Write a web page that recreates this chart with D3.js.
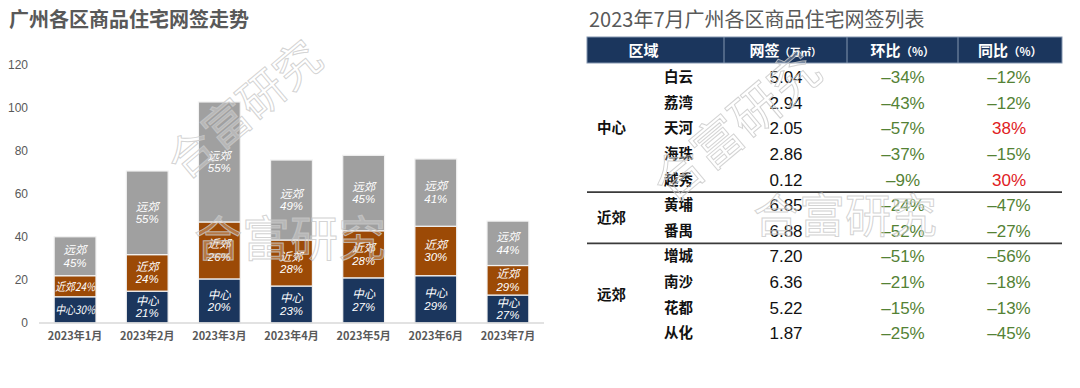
<!DOCTYPE html>
<html>
<head>
<meta charset="utf-8">
<script src="https://cdn.jsdelivr.net/npm/d3@7"></script>
<style>
  body { margin: 0; background: #fff; }
  svg { display: block; font-family: "Liberation Sans", "Noto Sans CJK SC", sans-serif; }
</style>
</head>
<body>
<script>
// left chart data (万㎡)
var months = ["2023年1月", "2023年2月", "2023年3月", "2023年4月", "2023年5月", "2023年6月", "2023年7月"];
var centerVals = [12.2, 14.8, 20.5, 17.2, 21.0, 22.0, 13.01];
var nearVals = [9.8, 17.0, 26.5, 21.4, 21.9, 23.0, 13.73];
var farVals = [18.1, 38.9, 55.8, 37.2, 35.1, 31.3, 20.65];
var centerPct = ["30%", "21%", "20%", "23%", "27%", "29%", "27%"];
var nearPct = ["24%", "24%", "26%", "28%", "28%", "30%", "29%"];
var farPct = ["45%", "55%", "55%", "49%", "45%", "41%", "44%"];
var yTicks = [0, 20, 40, 60, 80, 100, 120];

// table data
var groups = ["中心", "近郊", "远郊"];
var groupSize = [5, 2, 4];
var districts = ["白云", "荔湾", "天河", "海珠", "越秀", "黄埔", "番禺", "增城", "南沙", "花都", "从化"];
var signed = [5.04, 2.94, 2.05, 2.86, 0.12, 6.85, 6.88, 7.20, 6.36, 5.22, 1.87];
var mom = [-34, -43, -57, -37, -9, -24, -52, -51, -21, -15, -25];
var yoy = [-12, -12, 38, -15, 30, -47, -27, -56, -18, -13, -45];

var cjk = "'Noto Sans CJK SC', sans-serif";
var numFont = "'Liberation Sans', Arial, 'Noto Sans CJK SC', sans-serif";

var svg = d3.select("body").append("svg")
    .attr("width", 1080)
    .attr("height", 388);

// watermark spots
var marks = [
    { x: 255, y: 122, rot: -40, size: 46 },
    { x: 290, y: 256, rot: 0, size: 48 },
    { x: 748, y: 140, rot: -40, size: 50 },
    { x: 845, y: 232, rot: 0, size: 46 }
];

// ---------- left: stacked bars ----------
svg.append("text")
    .attr("x", 9).attr("y", 27)
    .attr("font-family", cjk)
    .attr("font-size", "20px")
    .attr("font-weight", "bold")
    .attr("fill", "#595959")
    .text("广州各区商品住宅网签走势");

var x = d3.scaleBand()
    .domain(months)
    .range([39, 544])
    .paddingInner(0.42)
    .paddingOuter(0.21);

var y = d3.scaleLinear()
    .domain([0, 120])
    .range([323, 65]);

var yAxis = svg.append("g")
    .attr("transform", "translate(30,0)")
    .call(d3.axisLeft(y).tickValues(yTicks).tickSize(0).tickPadding(2));
yAxis.select(".domain").remove();
yAxis.selectAll("text")
    .attr("font-family", numFont)
    .attr("font-size", "12px")
    .attr("fill", "#595959");

var series = [
    { vals: centerVals, pct: centerPct, name: "中心", color: "#1b365d" },
    { vals: nearVals, pct: nearPct, name: "近郊", color: "#9c4a06" },
    { vals: farVals, pct: farPct, name: "远郊", color: "#a0a0a0" }
];

var stacked = months.map(function (m, i) {
    var base = 0;
    return series.map(function (s) {
        var seg = { month: m, y0: base, y1: base + s.vals[i], color: s.color, name: s.name, pct: s.pct[i], v: s.vals[i] };
        base += s.vals[i];
        return seg;
    });
});
var segs = [].concat.apply([], stacked);

svg.selectAll("rect.seg")
    .data(segs)
    .enter()
    .append("rect")
    .attr("class", "seg")
    .attr("x", function (d) { return x(d.month); })
    .attr("width", x.bandwidth())
    .attr("y", function (d) { return y(d.y1); })
    .attr("height", function (d) { return y(d.y0) - y(d.y1); })
    .attr("fill", function (d) { return d.color; })
    .attr("stroke", "#f2f2f2")
    .attr("stroke-width", 1.2);

// segment labels
var lab = svg.selectAll("text.seglab")
    .data(segs)
    .enter()
    .append("text")
    .attr("class", "seglab")
    .attr("text-anchor", "middle")
    .attr("font-family", cjk)
    .attr("font-style", "italic")
    .attr("font-size", "11.5px")
    .attr("fill", "#fff")
    .attr("x", function (d) { return x(d.month) + x.bandwidth() / 2; })
    .attr("y", function (d) { return (y(d.y0) + y(d.y1)) / 2; });

lab.each(function (d) {
    var t = d3.select(this);
    if (d.v < 12.5) {
        t.attr("dy", "0.38em").text(d.name + d.pct).attr("textLength", x.bandwidth() - 2).attr("lengthAdjust", "spacingAndGlyphs");
    } else {
        t.append("tspan").attr("x", t.attr("x")).attr("dy", "-0.2em").text(d.name);
        t.append("tspan").attr("x", t.attr("x")).attr("dy", "1.1em").attr("font-family", numFont).text(d.pct);
    }
});

// baseline
svg.append("line")
    .attr("x1", 39).attr("x2", 544)
    .attr("y1", y(0)).attr("y2", y(0))
    .attr("stroke", "#d9d9d9").attr("stroke-width", 1.5);

var xAxis = svg.append("g")
    .attr("transform", "translate(0," + y(0) + ")")
    .call(d3.axisBottom(x).tickSize(0).tickPadding(9));
xAxis.select(".domain").remove();
xAxis.selectAll("text")
    .attr("font-family", cjk)
    .attr("font-size", "11px")
    .attr("font-weight", "bold")
    .attr("fill", "#595959");

// ---------- right: table ----------
svg.append("text")
    .attr("x", 589).attr("y", 27)
    .attr("font-family", cjk)
    .attr("font-size", "20px")
    .attr("fill", "#595959")
    .text("2023年7月广州各区商品住宅网签列表");

var tLeft = 587, tRight = 1062;
var colEdges = [587, 724, 847, 958, 1062];

svg.append("rect")
    .attr("x", tLeft).attr("y", 37)
    .attr("width", tRight - tLeft).attr("height", 26)
    .attr("fill", "#1b365d")
    .attr("stroke", "#8496b0").attr("stroke-width", 1);

[724, 847, 958].forEach(function (cx) {
    svg.append("line")
        .attr("x1", cx).attr("x2", cx).attr("y1", 37).attr("y2", 63)
        .attr("stroke", "#8496b0").attr("stroke-width", 1);
});

var headers = [["区域", ""], ["网签", "（万㎡）"], ["环比", "（%）"], ["同比", "（%）"]];
headers.forEach(function (h, i) {
    var t = svg.append("text")
        .attr("x", (colEdges[i] + colEdges[i + 1]) / 2 - (i === 0 ? 12 : 0))
        .attr("y", 55.5)
        .attr("text-anchor", "middle")
        .attr("font-family", cjk)
        .attr("font-weight", "bold")
        .attr("fill", "#fff");
    t.append("tspan").attr("font-size", "15px").text(h[0]);
    if (h[1]) t.append("tspan").attr("font-size", i === 1 ? "10.5px" : "11.5px").text(h[1]);
});

var row = d3.scaleBand()
    .domain(districts)
    .range([64.2, 64.2 + 25.6 * districts.length]);

var rowY = function (d) { return row(d) + row.bandwidth() / 2; };

// group labels and separators
var start = 0;
groups.forEach(function (g, gi) {
    var first = districts[start], last = districts[start + groupSize[gi] - 1];
    var cy = (row(first) + row(last) + row.bandwidth()) / 2;
    svg.append("text")
        .attr("x", 597).attr("y", cy)
        .attr("dy", "0.36em")
        .attr("font-family", cjk)
        .attr("font-size", "14.5px")
        .attr("font-weight", "bold")
        .attr("fill", "#111")
        .text(g);
    if (gi < groups.length - 1) {
        var ly = row(last) + row.bandwidth();
        svg.append("line")
            .attr("x1", tLeft).attr("x2", tRight)
            .attr("y1", ly).attr("y2", ly)
            .attr("stroke", "#3a3a3a").attr("stroke-width", 1.8);
    }
    start += groupSize[gi];
});

svg.selectAll("text.dist")
    .data(districts)
    .enter()
    .append("text")
    .attr("class", "dist")
    .attr("x", 664)
    .attr("y", rowY)
    .attr("dy", "0.36em")
    .attr("font-family", cjk)
    .attr("font-size", "14.5px")
    .attr("font-weight", "bold")
    .attr("fill", "#111")
    .text(function (d) { return d; });

var fmtPct = function (v) { return (v < 0 ? "–" + Math.abs(v) : v) + "%"; };

svg.selectAll("text.val")
    .data(signed)
    .enter()
    .append("text")
    .attr("class", "val")
    .attr("x", 786)
    .attr("y", function (d, i) { return rowY(districts[i]); })
    .attr("dy", "0.36em")
    .attr("text-anchor", "middle")
    .attr("font-family", numFont)
    .attr("font-size", "17px")
    .attr("fill", "#111")
    .text(function (d) { return d.toFixed(2); });

svg.selectAll("text.mom")
    .data(mom)
    .enter()
    .append("text")
    .attr("class", "mom")
    .attr("x", 903)
    .attr("y", function (d, i) { return rowY(districts[i]); })
    .attr("dy", "0.36em")
    .attr("text-anchor", "middle")
    .attr("font-family", numFont)
    .attr("font-size", "17px")
    .attr("fill", function (d) { return d < 0 ? "#548235" : "#e0201e"; })
    .text(fmtPct);

svg.selectAll("text.yoy")
    .data(yoy)
    .enter()
    .append("text")
    .attr("class", "yoy")
    .attr("x", 1009)
    .attr("y", function (d, i) { return rowY(districts[i]); })
    .attr("dy", "0.36em")
    .attr("text-anchor", "middle")
    .attr("font-family", numFont)
    .attr("font-size", "17px")
    .attr("fill", function (d) { return d < 0 ? "#548235" : "#e0201e"; })
    .text(fmtPct);

// watermark on top, outline only
svg.selectAll("text.wm")
    .data(marks)
    .enter()
    .append("text")
    .attr("class", "wm")
    .attr("text-anchor", "middle")
    .attr("transform", function (d) { return "translate(" + d.x + "," + d.y + ") rotate(" + d.rot + ")"; })
    .attr("font-family", cjk)
    .attr("font-size", function (d) { return d.size + "px"; })
    .attr("fill", "rgba(255,255,255,0.25)")
    .attr("stroke", "#c8c8c8")
    .attr("stroke-opacity", 0.8)
    .attr("stroke-width", 1)
    .text("合富研究");
</script>
</body>
</html>
